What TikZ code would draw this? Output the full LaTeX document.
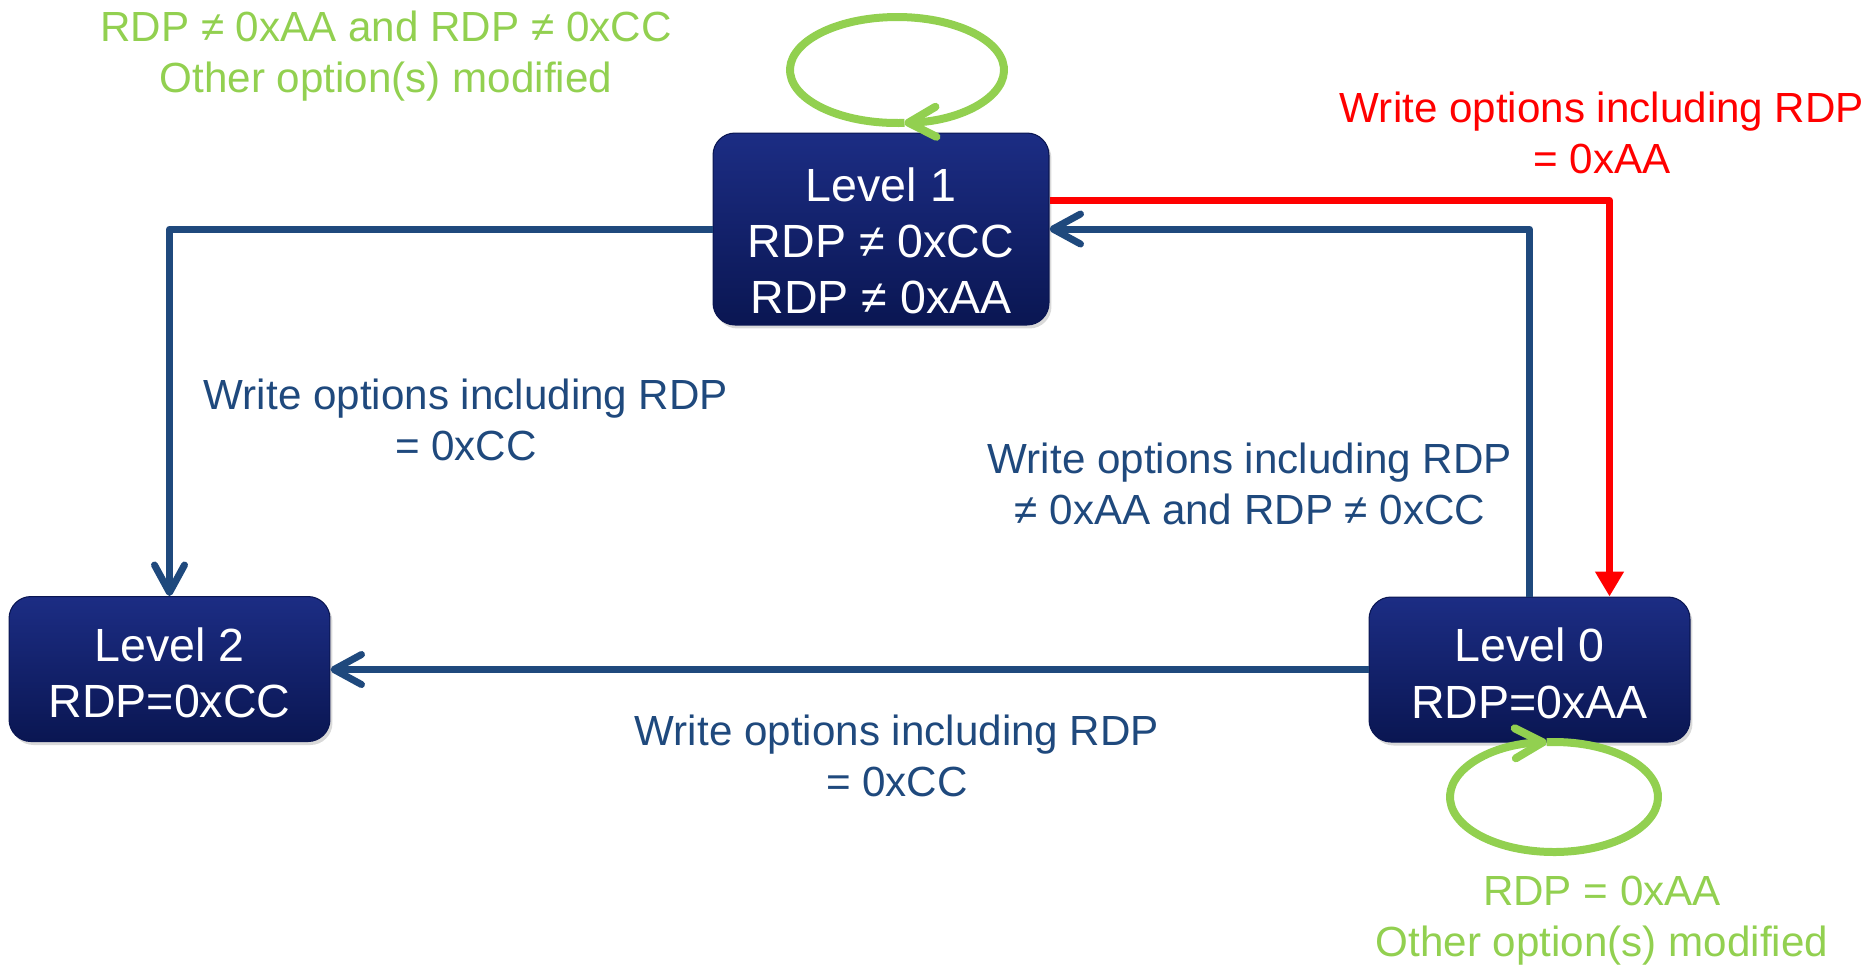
\documentclass[tikz,border=0pt]{standalone}
\usepackage{fontspec}
\setmainfont{Liberation Sans}
\usetikzlibrary{arrows.meta,calc,shadows}

\definecolor{navytop}{RGB}{28,45,132}
\definecolor{navybot}{RGB}{10,22,82}
\definecolor{rdpblue}{RGB}{31,73,125}
\definecolor{rdpgreen}{RGB}{146,208,80}
\definecolor{rdpred}{RGB}{255,0,0}

\tikzset{
    levelbox/.style={rectangle, rounded corners=0.44cm, top color=navytop, bottom color=navybot,
        draw=navybot, line width=0.6pt, text=white, align=center,
        font=\fontsize{26.5}{32}\selectfont,
        drop shadow={shadow xshift=0.05cm, shadow yshift=-0.07cm, opacity=0.3}},
    transition/.style={draw=rdpblue, line width=0.14cm, line join=round,
        -{Straight Barb[length=0.55cm, width=0.6cm, round]}},
    redtransition/.style={draw=rdpred, line width=0.14cm, line join=round,
        -{Triangle[length=0.5cm, width=0.55cm]}},
    loopline/.style={draw=rdpgreen, line width=0.16cm,
        -{Straight Barb[length=0.55cm, width=0.6cm, round]}},
    bluelabel/.style={text=rdpblue, align=center, inner sep=0pt, font=\fontsize{24}{29}\selectfont},
    redlabel/.style={bluelabel, text=rdpred},
    greenlabel/.style={bluelabel, text=rdpgreen}
}

\begin{document}
\begin{tikzpicture}[x=0.02cm, y=-0.02cm]
    \useasboundingbox (0,0) rectangle (1873,965);

    % Levels
    \node[levelbox, minimum width=6.72cm, minimum height=3.84cm] (lvl1) at (881,229)
        {\rule{0pt}{1.15cm}Level 1\\RDP ≠ 0xCC\\RDP ≠ 0xAA};
    \node[levelbox, minimum width=6.42cm, minimum height=2.9cm] (lvl0) at (1529.5,669.5)
        {\rule{0pt}{0.83cm}Level 0\\RDP=0xAA};
    \node[levelbox, minimum width=6.42cm, minimum height=2.9cm] (lvl2) at (169.5,669)
        {\rule{0pt}{0.83cm}Level 2\\RDP=0xCC};

    % Transitions
    \draw[transition] (lvl1.west) -| (lvl2.north);
    \draw[transition] (lvl0.north) |- (lvl1.east);
    \draw[transition] (lvl0.west) -- (lvl0.west -| lvl2.east);
    \draw[redtransition] ($(lvl1.east)+(0,-29)$) -| ($(lvl0.north)+(80,0)$);

    % Self loops
    \coordinate (loop1) at (897,70);
    \coordinate (loop0) at (1554,797);
    \draw[loopline] ($(loop1)+(86:107 and 53)$) arc[start angle=86, end angle=446, x radius=107, y radius=53];
    \draw[loopline] ($(loop0)+(-94:104 and 55)$) arc[start angle=-94, end angle=266, x radius=104, y radius=55];

    % Labels
    \node[greenlabel] (keep1) at (386,56) {RDP ≠ 0xAA and RDP ≠ 0xCC\\Other option(s) modified};
    \node[redlabel] (to0) at (1602,133) {Write options including RDP\\= 0xAA};
    \node[bluelabel] (to2a) at (466,420) {Write options including RDP\\= 0xCC};
    \node[bluelabel] (to1) at (1250,484) {Write options including RDP\\≠ 0xAA and RDP ≠ 0xCC};
    \node[bluelabel] (to2b) at (897,756) {Write options including RDP\\= 0xCC};
    \node[greenlabel] (keep0) at (1602,921) {RDP = 0xAA\\Other option(s) modified};
\end{tikzpicture}
\end{document}
